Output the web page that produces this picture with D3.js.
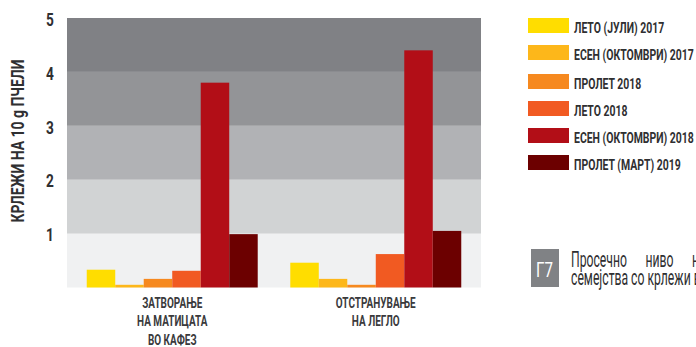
<!DOCTYPE html>
<html>
<head>
<meta charset="utf-8">
<script src="https://cdn.jsdelivr.net/npm/d3@7"></script>
<style>
  html, body { margin: 0; padding: 0; background: #fff; overflow: hidden; }
  svg { display: block; }
  text { font-family: Roboto, "Liberation Sans", sans-serif; }
</style>
</head>
<body>
<svg id="chart" width="696" height="347"></svg>
<script>
// Categories (treatments) and season series
const categories = [
  ["ЗАТВОРАЊЕ", "НА МАТИЦАТА", "ВО КАФЕЗ"],
  ["ОТСТРАНУВАЊЕ", "НА ЛЕГЛО"]
];
const seriesNames = [
  "ЛЕТО (ЈУЛИ) 2017",
  "ЕСЕН (ОКТОМВРИ) 2017",
  "ПРОЛЕТ 2018",
  "ЛЕТО 2018",
  "ЕСЕН (ОКТОМВРИ) 2018",
  "ПРОЛЕТ (МАРТ) 2019"
];
const seriesColors = ["#ffdd00", "#fdb71a", "#f6891f", "#f15a22", "#b20e17", "#6c0000"];
// values[i][j] : category i, series j
const values = [
  [0.33, 0.05, 0.16, 0.31, 3.80, 0.99],
  [0.46, 0.16, 0.05, 0.62, 4.40, 1.05]
];
const yTicks = [1, 2, 3, 4, 5];
const bandColors = ["#f0f1f2", "#d1d3d4", "#b1b2b5", "#939497", "#808185"];
const yTitle = "КРЛЕЖИ НА 10 g ПЧЕЛИ";
const figLabel = "Г7";
const captionLines = ["Просечно ниво на нападнатост на", "семејства со крлежи во текот на годината"];

const svg = d3.select("#chart");
const plot = { left: 67, right: 481, top: 18, bottom: 287.5 };
const ink = "#2f2f31";

// Condensed lettering: text drawn inside a group squeezed horizontally
function label(parent, x, y, str, opts) {
  const g = parent.append("g");
  const t = g.append("text")
    .attr("x", 0).attr("y", 0)
    .attr("text-anchor", opts.anchor || "start")
    .attr("font-size", opts.size)
    .attr("font-weight", opts.weight || "normal")
    .attr("fill", opts.fill || ink)
    .text(str);
  if (opts.wordSpacing) t.attr("word-spacing", opts.wordSpacing);
  const rot = opts.rotate ? ` rotate(${opts.rotate})` : "";
  g.attr("transform", `translate(${x},${y})${rot} scale(${opts.squeeze},1)`);
  return t;
}
function squeezeFor(str, size, weight, target) {
  const t = svg.append("text").attr("font-size", size).attr("font-weight", weight).text(str);
  const w = t.node().getComputedTextLength();
  t.remove();
  return target / w;
}

const y = d3.scaleLinear().domain([0, 5]).range([plot.bottom, plot.top]);
const x0 = d3.scaleBand().domain(d3.range(categories.length))
  .range([plot.left, plot.right]).paddingInner(0.16).paddingOuter(0.097);
const x1 = d3.scaleBand().domain(d3.range(seriesNames.length))
  .range([0, x0.bandwidth()]).padding(0);

// Background bands, one per unit
svg.append("g").selectAll("rect")
  .data(d3.range(5))
  .join("rect")
  .attr("x", plot.left)
  .attr("width", plot.right - plot.left)
  .attr("y", d => y(d + 1))
  .attr("height", d => y(d) - y(d + 1))
  .attr("fill", d => bandColors[d]);

// Bars
const groups = svg.append("g").selectAll("g")
  .data(values)
  .join("g")
  .attr("transform", (d, i) => `translate(${x0(i)},0)`);
groups.selectAll("rect")
  .data(d => d)
  .join("rect")
  .attr("x", (d, j) => x1(j))
  .attr("width", x1.bandwidth())
  .attr("y", d => y(d))
  .attr("height", d => y(0) - y(d))
  .attr("fill", (d, j) => seriesColors[j]);

// Y axis labels
const yAxis = d3.axisLeft(y).tickValues(yTicks).tickFormat(d3.format("d")).tickSize(0).tickPadding(0);
const yg = svg.append("g").attr("transform", "translate(50,0)").call(yAxis);
yg.select(".domain").remove();
yg.selectAll("text")
  .attr("x", 0)
  .attr("dy", "0.38em")
  .attr("text-anchor", "middle")
  .attr("font-size", 19)
  .attr("font-weight", "bold")
  .attr("font-family", "Roboto, sans-serif")
  .attr("fill", ink)
  .attr("transform", "scale(0.72,1)");

// Y axis title
const sqTitle = squeezeFor(yTitle, 18.5, "bold", 163);
label(svg, 23.5, 141, yTitle, { anchor: "middle", size: 18.5, weight: "bold", rotate: -90, squeeze: sqTitle });

// Category labels
const sqCat = squeezeFor("ОТСТРАНУВАЊЕ", 15, "bold", 80);
categories.forEach((lines, i) => {
  const cx = x0(i) + x0.bandwidth() / 2;
  lines.forEach((ln, k) => {
    label(svg, cx, 308 + k * 18.3, ln, { anchor: "middle", size: 15, weight: "bold", fill: "#3a3a3c", squeeze: sqCat });
  });
});

// Legend
const sqLeg = squeezeFor("ЕСЕН (ОКТОМВРИ) 2017", 14, "bold", 120);
const lg = svg.append("g").attr("transform", "translate(528,18)");
const rowY = [0, 27, 56, 83, 110, 137];
seriesNames.forEach((name, j) => {
  lg.append("rect").attr("y", rowY[j]).attr("width", 41).attr("height", 15).attr("fill", seriesColors[j]);
  label(lg, 46, rowY[j] + 14.5, name, { size: 14, weight: "bold", squeeze: sqLeg });
});

// Figure tag and caption
svg.append("rect").attr("x", 531).attr("y", 249).attr("width", 28).attr("height", 38).attr("fill", "#808285");
label(svg, 544.5, 277, figLabel, { anchor: "middle", size: 21, fill: "#fff", squeeze: 0.72 });
const sqCap = squeezeFor("Просечно", 22.5, "normal", 56);
label(svg, 571, 266.7, captionLines[0], { size: 22.5, squeeze: sqCap, wordSpacing: 15.5 / sqCap });
label(svg, 571, 285, captionLines[1], { size: 22.5, squeeze: sqCap });
</script>
</body>
</html>
